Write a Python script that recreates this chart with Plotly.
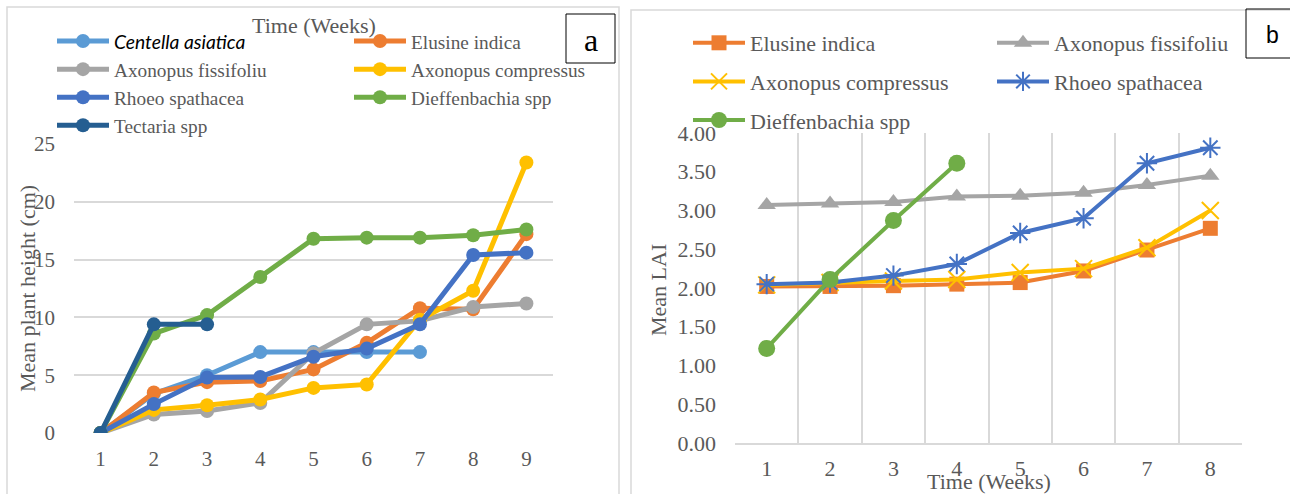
import plotly.graph_objects as go

W, H = 1290, 494

# ---------------- data ----------------
weeks_a = [1, 2, 3, 4, 5, 6, 7, 8, 9]
centella_a = [0, 3.4, 5.0, 7.0, 7.0, 7.0, 7.0]
elusine_a = [0, 3.5, 4.4, 4.5, 5.5, 7.8, 10.8, 10.7, 17.2]
fissifoliu_a = [0, 1.6, 1.9, 2.6, 6.9, 9.4, 9.7, 10.9, 11.2]
compressus_a = [0, 2.0, 2.4, 2.9, 3.9, 4.2, 9.8, 12.3, 23.4]
rhoeo_a = [0, 2.5, 4.8, 4.85, 6.6, 7.3, 9.4, 15.4, 15.6]
dieff_a = [0, 8.6, 10.2, 13.5, 16.8, 16.9, 16.9, 17.1, 17.6]
tectaria_a = [0, 9.4, 9.4]

weeks_b = [1, 2, 3, 4, 5, 6, 7, 8]
elusine_b = [2.02, 2.02, 2.03, 2.05, 2.07, 2.22, 2.49, 2.77]
fissifoliu_b = [3.07, 3.09, 3.11, 3.18, 3.19, 3.23, 3.33, 3.45]
compressus_b = [2.04, 2.07, 2.09, 2.11, 2.20, 2.25, 2.52, 3.00]
rhoeo_b = [2.05, 2.07, 2.16, 2.31, 2.71, 2.90, 3.61, 3.81]
dieff_b = [1.22, 2.11, 2.87, 3.61]

C_LBLUE = "#5B9BD5"
C_ORANGE = "#ED7D31"
C_GRAY = "#A5A5A5"
C_YELLOW = "#FFC000"
C_BLUE = "#4472C4"
C_GREEN = "#70AD47"
C_DBLUE = "#255E91"
TXT = "#595959"
GRID = "#D9D9D9"
SERIF = "Liberation Serif"


def px(x):
    return x / W


def py(y):
    return 1 - y / H


fig = go.Figure()


def add_a(name, x, y, color, legend, shown_name=None):
    fig.add_trace(go.Scatter(
        x=x[:len(y)], y=y, name=shown_name or name, mode="lines+markers",
        line=dict(color=color, width=5),
        marker=dict(symbol="circle", size=14, color=color),
        xaxis="x", yaxis="y", legend=legend, legendgroup="a_" + name,
    ))


centella_label = ("<span style=\"font-family:Lato;color:black\"><i>Centella asiatica</i></span>")
add_a("Centella asiatica", weeks_a, centella_a, C_LBLUE, "legend", centella_label)
add_a("Elusine indica", weeks_a, elusine_a, C_ORANGE, "legend2")
add_a("Axonopus fissifoliu", weeks_a, fissifoliu_a, C_GRAY, "legend")
add_a("Axonopus compressus", weeks_a, compressus_a, C_YELLOW, "legend2")
add_a("Rhoeo spathacea", weeks_a, rhoeo_a, C_BLUE, "legend")
add_a("Dieffenbachia spp", weeks_a, dieff_a, C_GREEN, "legend2")
add_a("Tectaria spp", weeks_a, tectaria_a, C_DBLUE, "legend")


def add_b(name, y, color, symbol, legend, size=16, lw=0):
    fig.add_trace(go.Scatter(
        x=weeks_b[:len(y)], y=y, name=name, mode="lines+markers",
        line=dict(color=color, width=4),
        marker=dict(symbol=symbol, size=size, color=color,
                    line=dict(color=color, width=lw)),
        xaxis="x2", yaxis="y2", legend=legend, legendgroup="b_" + name,
    ))


add_b("Elusine indica", elusine_b, C_ORANGE, "square", "legend3", 15)
add_b("Axonopus fissifoliu", fissifoliu_b, C_GRAY, "triangle-up", "legend4", 16)
add_b("Axonopus compressus", compressus_b, C_YELLOW, "x-thin-open", "legend3", 17, 2)
add_b("Rhoeo spathacea", rhoeo_b, C_BLUE, "asterisk-open", "legend4", 17, 2)
add_b("Dieffenbachia spp", dieff_b, C_GREEN, "circle", "legend3", 17)

tickfont_a = dict(family=SERIF, size=21, color=TXT)
tickfont_b = dict(family=SERIF, size=22, color=TXT)


def legend_cfg(x, y, size, gap):
    return dict(x=px(x), y=py(y), xanchor="left", yanchor="top",
                orientation="v", bgcolor="rgba(0,0,0,0)", borderwidth=0,
                font=dict(family=SERIF, size=size, color=TXT),
                itemwidth=52, tracegroupgap=gap, traceorder="grouped",
                itemclick=False, itemdoubleclick=False)


fig.update_layout(
    template=None,
    width=W, height=H, autosize=False,
    margin=dict(l=0, r=0, t=0, b=0, pad=0, autoexpand=False),
    paper_bgcolor="white", plot_bgcolor="white",
    showlegend=True,
    xaxis=dict(domain=[px(74), px(553)], range=[0.5, 9.5], tickvals=weeks_a,
               showgrid=False, zeroline=False, showline=False, ticks="",
               ticklabelstandoff=11,
               tickfont=tickfont_a, anchor="y", fixedrange=True, automargin=False),
    yaxis=dict(domain=[py(433), py(144)], range=[0, 25], dtick=5,
               showgrid=True, gridcolor=GRID, gridwidth=1.5, zeroline=False,
               showline=False, ticks="", tickfont=tickfont_a, anchor="x",
               ticklabelstandoff=18,
               fixedrange=True, automargin=False),
    xaxis2=dict(domain=[px(735), px(1242)], range=[0.5, 8.5], tickvals=weeks_b,
                showgrid=False, zeroline=False, showline=True, linecolor=GRID,
                linewidth=1.5, ticks="", tickfont=tickfont_b, anchor="y2",
                ticklabelstandoff=5,
                minor=dict(tick0=0.5, dtick=1, showgrid=True, gridcolor=GRID,
                           gridwidth=1.5),
                fixedrange=True, automargin=False),
    yaxis2=dict(domain=[py(443), py(133)], range=[0, 4], dtick=0.5,
                tickformat=".2f", showgrid=False, zeroline=False,
                showline=False, ticks="", tickfont=tickfont_b, anchor="x2",
                ticklabelstandoff=18,
                fixedrange=True, automargin=False),
    legend=legend_cfg(52, 22, 19.3, 0),
    legend2=legend_cfg(349, 22, 19.3, 0),
    legend3=legend_cfg(688, 22, 22, 7),
    legend4=legend_cfg(992, 22, 22, 7),
)

shapes = [
    dict(type="rect", xref="paper", yref="paper", x0=px(7), x1=px(619),
         y0=py(510), y1=py(7), line=dict(color=GRID, width=1.5), layer="below"),
    dict(type="rect", xref="paper", yref="paper", x0=px(631), x1=px(1310),
         y0=py(510), y1=py(10), line=dict(color=GRID, width=1.5), layer="below"),
    dict(type="rect", xref="paper", yref="paper", x0=px(566), x1=px(615),
         y0=py(63), y1=py(14), line=dict(color="black", width=1)),
    dict(type="rect", xref="paper", yref="paper", x0=px(1246), x1=px(1300),
         y0=py(58), y1=py(9), line=dict(color="black", width=1)),
]
fig.update_layout(shapes=shapes)

ann = [
    dict(text="Time (Weeks)", x=px(314), y=py(26), font=dict(family=SERIF, size=22, color=TXT)),
    dict(text="Mean plant height (cm)", x=px(27), y=py(289), textangle=-90,
         font=dict(family=SERIF, size=22, color=TXT)),
    dict(text="Mean LAI", x=px(658), y=py(290), textangle=-90,
         font=dict(family=SERIF, size=22, color=TXT)),
    dict(text="Time (Weeks)", x=px(989), y=py(481), font=dict(family=SERIF, size=22, color=TXT)),
    dict(text="a", x=px(591), y=py(40), font=dict(family=SERIF, size=32, color="black")),
    dict(text="b", x=px(1272), y=py(35), font=dict(family="Liberation Sans", size=23, color="black")),
]
for a in ann:
    a.update(xref="paper", yref="paper", showarrow=False, xanchor="center", yanchor="middle")
fig.update_layout(annotations=ann)

fig.write_html("out.html")
